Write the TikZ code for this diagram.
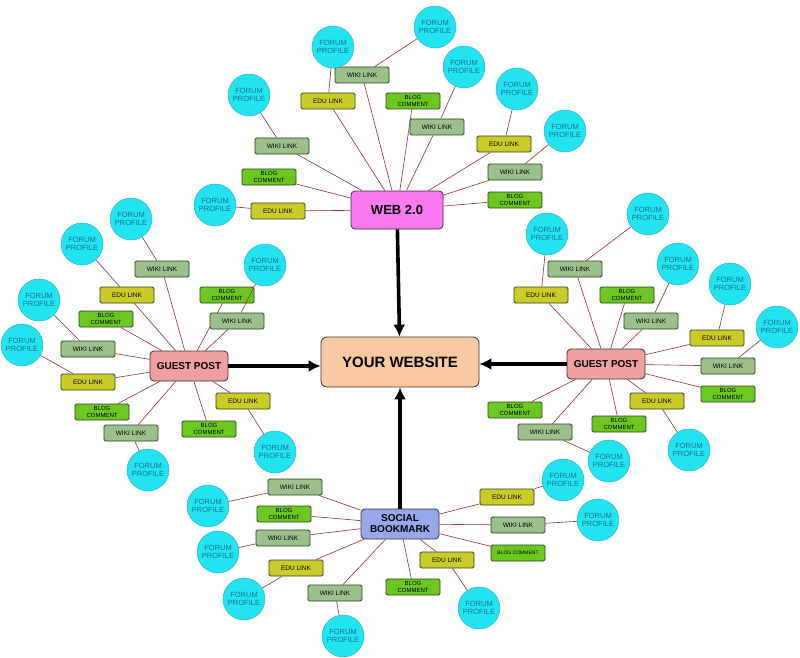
\documentclass[tikz,border=0pt]{standalone}
\usepackage{fontspec}
\setmainfont{Liberation Sans}
\usetikzlibrary{arrows.meta}
\def\txtwiki{WIKI LINK}
\def\txtedu{EDU LINK}
\def\txtblog{BLOG\\COMMENT}
\def\txtblogs{BLOG COMMENT}
\begin{document}
\begin{tikzpicture}[x=1pt,y=-1pt,
  edge/.style={draw={rgb,255:red,140;green,50;blue,50},line width=0.6pt},
  big/.style={line width=3.6pt,-{Latex[length=12pt,width=12pt]}},
  leaf/.style={draw={rgb,255:red,40;green,70;blue,30},line width=0.8pt,rounded corners=1.5pt,minimum width=54pt,minimum height=16pt,inner sep=0.5pt,font=\fontsize{6.5}{6.5}\selectfont,align=center},
  wiki/.style={leaf,fill={rgb,255:red,156;green,192;blue,138}},
  edu/.style={leaf,fill={rgb,255:red,204;green,204;blue,40}},
  blog/.style={leaf,fill={rgb,255:red,108;green,200;blue,32},font=\fontsize{6}{6.5}\selectfont},
  blogs/.style={leaf,fill={rgb,255:red,108;green,200;blue,32},font=\fontsize{5}{6}\selectfont},
  forum/.style={circle,draw={rgb,255:red,40;green,170;blue,190},fill={rgb,255:red,34;green,228;blue,240},minimum size=42pt,inner sep=0pt,align=center,text={rgb,255:red,20;green,110;blue,150},font=\fontsize{7.5}{8.5}\selectfont},
  hub/.style={draw=black!80,line width=0.8pt,rounded corners=4pt,font=\bfseries\fontsize{10}{11}\selectfont,align=center,minimum height=30pt,minimum width=78pt,inner sep=1pt}
]
\useasboundingbox (0,0) rectangle (800,658);
\fill[white] (0,0) rectangle (800,658);
\node[hub,fill={rgb,255:red,248;green,201;blue,160},minimum width=158pt,minimum height=50pt,font=\bfseries\fontsize{15}{16}\selectfont,rounded corners=6pt] (site) at (400,362) {YOUR WEBSITE};
\node[hub,fill={rgb,255:red,250;green,120;blue,240},minimum width=92pt,minimum height=38pt,font=\bfseries\fontsize{13}{14}\selectfont] (web) at (397,210) {WEB 2.0};
\node[hub,fill={rgb,255:red,240;green,160;blue,160}] (gl) at (189,366) {GUEST POST};
\node[hub,fill={rgb,255:red,240;green,160;blue,160}] (gr) at (606,364) {GUEST POST};
\node[hub,fill={rgb,255:red,150;green,168;blue,235}] (sb) at (400,524) {SOCIAL\\BOOKMARK};
\draw[big] (web) -- (site);
\draw[big] (gl) -- (gl -| site.west);
\draw[big] (gr) -- (gr -| site.east);
\draw[big] (sb) -- (site);
\foreach \id/\s/\x/\y/\h in {
 w1/wiki/362/75/web, w2/edu/328/101/web, w3/blog/413/101/web, w4/wiki/437/127/web,
 w5/wiki/282/146/web, w6/edu/504/144/web, w7/blog/269/177/web, w8/wiki/515/172/web,
 w9/edu/278/211/web, w10/blog/515/200/web,
 r1/wiki/575/269/gr, r2/edu/541/295/gr, r3/blog/627/295/gr, r4/wiki/651/321/gr,
 r5/edu/717/338/gr, r6/wiki/728/366/gr, r7/blog/728/394/gr, r8/edu/657/401/gr,
 r9/blog/619/424/gr, r10/blog/515/410/gr, r11/wiki/545/432/gr,
 l1/wiki/162/269/gl, l2/edu/127/295/gl, l3/blog/227/295/gl, l4/blog/106/319/gl,
 l5/wiki/237/321/gl, l6/wiki/88/349/gl, l7/edu/88/382/gl, l8/blog/102/412/gl,
 l9/wiki/131/433/gl, l10/edu/243/401/gl, l11/blog/209/429/gl,
 s1/wiki/295/487/sb, s2/blog/284/514/sb, s3/wiki/283/538/sb, s4/edu/296/568/sb,
 s5/wiki/335/593/sb, s6/blog/413/587/sb, s7/edu/447/560/sb, s8/blogs/518/553/sb,
 s9/wiki/518/525/sb, s10/edu/507/497/sb}
 {\node[\s] (\id) at (\x,\y) {\csname txt\s\endcsname}; \draw[edge] (\h) -- (\id);}
\foreach \id/\x/\y/\p in {
 f1/435/27/w1, f2/333/47/w2, f3/464/67/w4, f4/249/95/w5, f5/517/89/w6, f6/565/131/w8, f7/215/205/w9,
 f8/648/214/r1, f9/547/234/r2, f10/678/264/r4, f11/730/284/r5, f12/777/327/r6, f13/689/450/r8, f14/609/461/r11,
 f15/131/219/l1, f16/82/244/l2, f17/265/265/l5, f18/39/300/l6, f19/22/345/l7, f20/148/470/l9, f21/275/452/l10,
 f22/208/506/s1, f23/218/552/s3, f24/244/599/s4, f25/343/636/s5, f26/479/608/s7, f27/598/520/s9, f28/563/480/s10}
 {\node[forum] (\id) at (\x,\y) {FORUM\\PROFILE}; \draw[edge] (\p) -- (\id);}
\end{tikzpicture}
\end{document}
